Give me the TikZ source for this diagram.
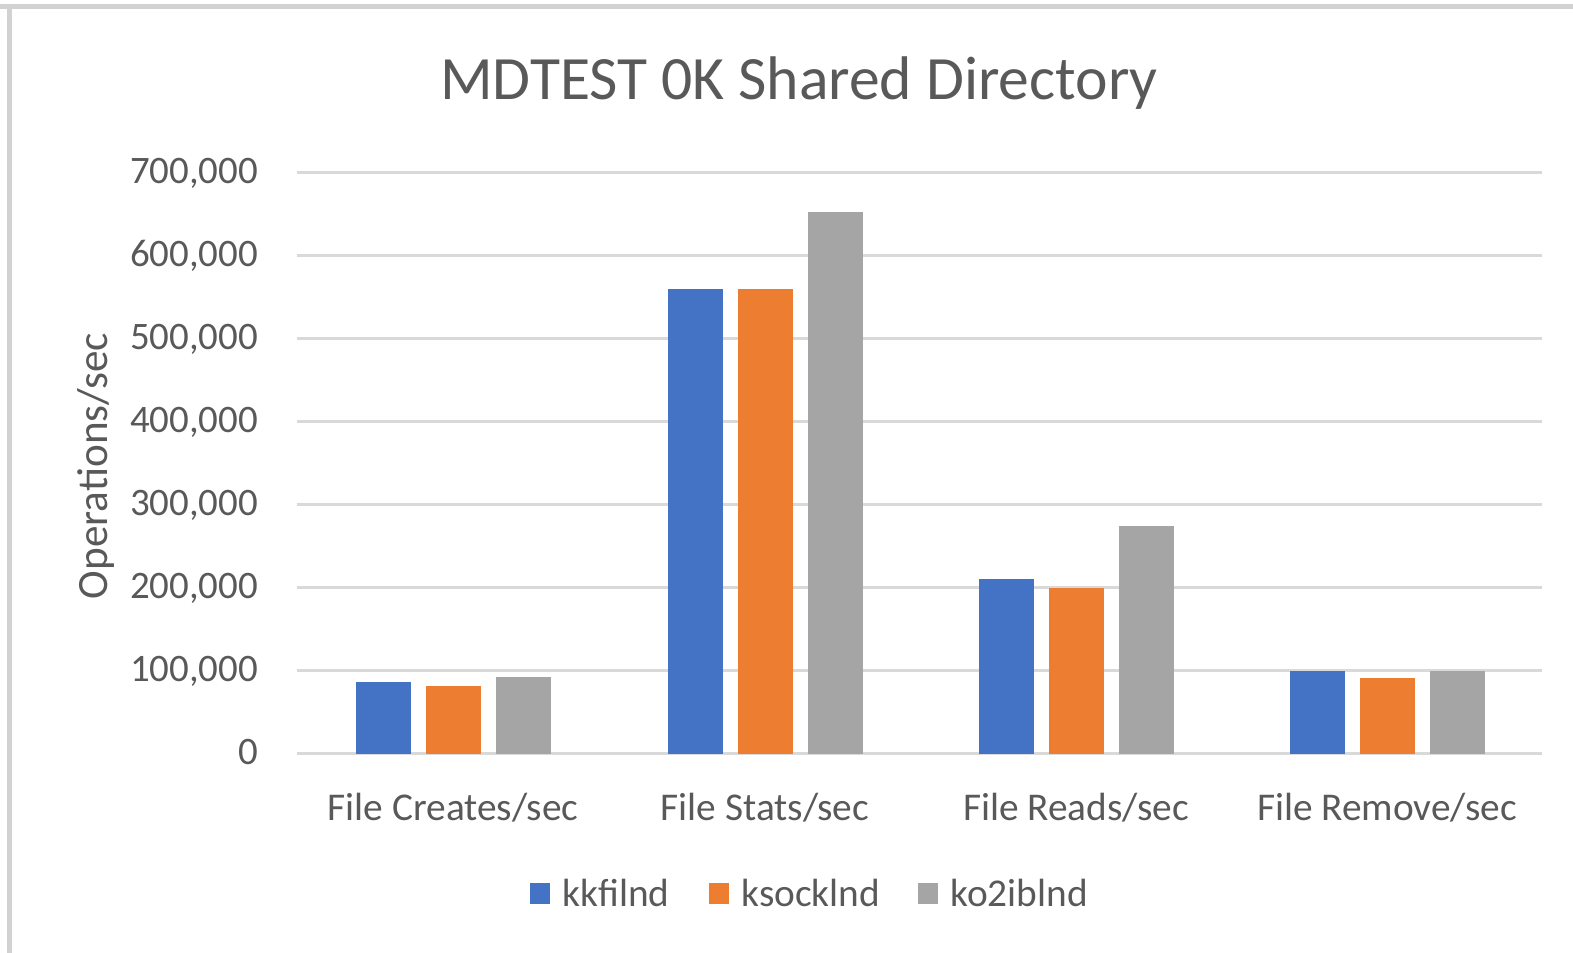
\documentclass[tikz,border=0pt]{standalone}
\usepackage{fontspec}
\setmainfont{Carlito}
\usetikzlibrary{positioning,calc}
\definecolor{txtgray}{HTML}{595959}
\definecolor{gridgray}{HTML}{D9D9D9}
\definecolor{framegray}{HTML}{D2D2D2}
\definecolor{kkblue}{HTML}{4472C4}
\definecolor{ksorange}{HTML}{ED7D31}
\definecolor{kogray}{HTML}{A5A5A5}

\begin{document}
\begin{tikzpicture}[
  x=0.2338pt, y=0.2338pt,
  gridline/.style={draw=gridgray, line width=0.7pt},
  tick/.style={anchor=base east, inner sep=0, text=txtgray, font=\fontsize{9.1}{11}\selectfont},
  cat/.style={anchor=base, inner sep=0, text=txtgray, font=\fontsize{9.2}{11}\selectfont},
  title/.style={anchor=base, inner sep=0, text=txtgray, font=\fontsize{14.4}{17}\selectfont},
  legsq/.style={minimum size=4.9pt, inner sep=0},
  legtxt/.style={inner sep=0, text=txtgray, font=\fontsize{9.2}{11}\selectfont},
  kk/.style={fill=kkblue},
  ks/.style={fill=ksorange},
  ko/.style={fill=kogray}
]
  \useasboundingbox (0,0) rectangle (1573,953);
  \def\Xa{296.5} \def\Xb{1542}
  \def\Yz{199}
  \def\Sc{0.831}
  \def\Ca{453} \def\Cb{765} \def\Cc{1076} \def\Cd{1387}

  % chart frame
  \draw[framegray, line width=1.2pt] (0,946.5) -- (1573,946.5);
  \draw[framegray, line width=1.2pt] (9.5,946.5) -- (9.5,0);

  % title
  \node[title] (ttl) at (799,853) {MDTEST 0K Shared Directory};

  % gridlines and value axis
  \draw[gridline] (\Xa,199) -- (\Xb,199);
  \draw[gridline] (\Xa,282.1) -- (\Xb,282.1);
  \draw[gridline] (\Xa,365.2) -- (\Xb,365.2);
  \draw[gridline] (\Xa,448.3) -- (\Xb,448.3);
  \draw[gridline] (\Xa,531.4) -- (\Xb,531.4);
  \draw[gridline] (\Xa,614.5) -- (\Xb,614.5);
  \draw[gridline] (\Xa,697.6) -- (\Xb,697.6);
  \draw[gridline] (\Xa,780.7) -- (\Xb,780.7);

  \node[tick] (v0) at (259,188) {0};
  \node[tick] (v1) at (259,271.1) {100,000};
  \node[tick] (v2) at (259,354.2) {200,000};
  \node[tick] (v3) at (259,437.3) {300,000};
  \node[tick] (v4) at (259,520.4) {400,000};
  \node[tick] (v5) at (259,603.5) {500,000};
  \node[tick] (v6) at (259,686.6) {600,000};
  \node[tick] (v7) at (259,769.7) {700,000};

  \node[anchor=base, rotate=90, inner sep=0, text=txtgray, font=\fontsize{10.1}{12}\selectfont]
    (ylab) at (108,487) {Operations/sec};

  % bars: kkfilnd, ksocklnd, ko2iblnd
  \fill[kk] (\Ca-97.5,\Yz) rectangle ++(55,{\Sc*87});
  \fill[ks] (\Ca-27.5,\Yz) rectangle ++(55,{\Sc*82});
  \fill[ko] (\Ca+42.5,\Yz) rectangle ++(55,{\Sc*93});

  \fill[kk] (\Cb-97.5,\Yz) rectangle ++(55,{\Sc*560});
  \fill[ks] (\Cb-27.5,\Yz) rectangle ++(55,{\Sc*560});
  \fill[ko] (\Cb+42.5,\Yz) rectangle ++(55,{\Sc*652});

  \fill[kk] (\Cc-97.5,\Yz) rectangle ++(55,{\Sc*210});
  \fill[ks] (\Cc-27.5,\Yz) rectangle ++(55,{\Sc*200});
  \fill[ko] (\Cc+42.5,\Yz) rectangle ++(55,{\Sc*274});

  \fill[kk] (\Cd-97.5,\Yz) rectangle ++(55,{\Sc*100});
  \fill[ks] (\Cd-27.5,\Yz) rectangle ++(55,{\Sc*92});
  \fill[ko] (\Cd+42.5,\Yz) rectangle ++(55,{\Sc*100});

  % category labels
  \node[cat] (c1) at (\Ca,132) {File Creates/sec};
  \node[cat] (c2) at (\Cb,132) {File Stats/sec};
  \node[cat] (c3) at (\Cc,132) {File Reads/sec};
  \node[cat] (c4) at (\Cd,132) {File Remove/sec};

  % legend
  \node[legsq, kk] (sq1) at (540,59.5) {};
  \node[legtxt, right=2.4pt of sq1] (l1) {kkfilnd};
  \node[legsq, ks] (sq2) at (719,59.5) {};
  \node[legtxt, right=2.4pt of sq2] (l2) {ksocklnd};
  \node[legsq, ko] (sq3) at (928,59.5) {};
  \node[legtxt, right=2.4pt of sq3] (l3) {ko2iblnd};
\end{tikzpicture}
\end{document}
